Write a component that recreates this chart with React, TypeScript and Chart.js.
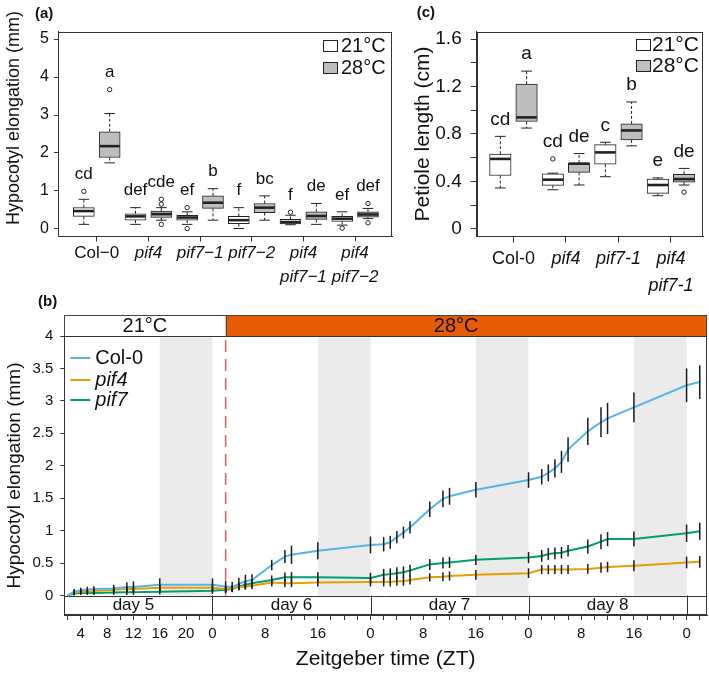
import React, { useEffect, useRef } from 'react';
import { Chart, registerables } from 'chart.js';

Chart.register(...registerables);

const FONT = "'Liberation Sans', Arial, Helvetica, sans-serif";
Chart.defaults.font.family = FONT;
Chart.defaults.color = '#111111';

// ---------------- Panel (a): hypocotyl elongation boxplots ----------------
const genotypesA: (string | string[])[] = ['Col−0', 'pif4', 'pif7−1', 'pif7−2', ['pif4', 'pif7−1'], ['pif4', 'pif7−2']];
// [lower whisker, Q1, median, Q3, upper whisker]
const boxesA21 = [
  [0.12, 0.33, 0.47, 0.56, 0.78],
  [0.12, 0.23, 0.33, 0.40, 0.56],
  [0.12, 0.23, 0.30, 0.36, 0.45],
  [0.01, 0.14, 0.23, 0.33, 0.56],
  [0.11, 0.13, 0.18, 0.25, 0.36],
  [0.10, 0.20, 0.27, 0.33, 0.45],
];
const boxesA28 = [
  [1.74, 1.88, 2.18, 2.56, 3.04],
  [0.23, 0.30, 0.39, 0.47, 0.56],
  [0.23, 0.54, 0.69, 0.87, 1.06],
  [0.23, 0.43, 0.56, 0.67, 0.87],
  [0.12, 0.25, 0.34, 0.45, 0.67],
  [0.27, 0.31, 0.38, 0.45, 0.54],
];
// [genotype index, value]
const outliersA21 = [[0, 0.99], [2, 0.56], [2, 0.01], [4, 0.44], [5, 0.02]];
const outliersA28 = [[0, 3.67], [1, 0.65], [1, 0.78], [1, 0.12], [5, 0.67], [5, 0.16]];
const lettersA21 = ['cd', 'def', 'ef', 'f', 'f', 'ef'];
const lettersA28 = ['a', 'cde', 'b', 'bc', 'de', 'def'];
const yTicksA = [0, 1, 2, 3, 4, 5];

// ---------------- Panel (c): petiole length boxplots ----------------
const genotypesC: (string | string[])[] = ['Col-0', 'pif4', 'pif7-1', ['pif4', 'pif7-1']];
const boxesC21 = [
  [0.345, 0.45, 0.59, 0.63, 0.78],
  [0.33, 0.367, 0.415, 0.465, 0.47],
  [0.44, 0.545, 0.645, 0.71, 0.73],
  [0.28, 0.30, 0.37, 0.42, 0.43],
];
const boxesC28 = [
  [0.85, 0.905, 0.94, 1.22, 1.33],
  [0.37, 0.476, 0.55, 0.555, 0.635],
  [0.70, 0.75, 0.83, 0.885, 1.07],
  [0.37, 0.395, 0.42, 0.46, 0.51],
];
const outliersC21 = [[1, 0.59]];
const outliersC28 = [[3, 0.31]];
const lettersC21 = ['cd', 'cd', 'c', 'e'];
const lettersC28 = ['a', 'de', 'b', 'de'];
const yTicksC = [0, 0.2, 0.4, 0.6, 0.8, 1.0, 1.2, 1.4, 1.6];
const yLabelsC = ['0', '', '0.4', '', '0.8', '', '1.2', '', '1.6'];

// ---------------- Panel (b): time course ----------------
const hours = [2, 3, 4, 5, 6, 9, 11, 12, 16, 24, 26, 27, 28, 29, 30, 33, 35, 36, 40, 48, 50, 51, 52, 53, 54, 57, 59, 60, 64, 72, 74, 75, 76, 77, 78, 81, 83, 84, 88, 96, 98];
const col0 = [0, 0.06, 0.08, 0.09, 0.10, 0.11, 0.13, 0.13, 0.165, 0.165, 0.14, 0.13, 0.18, 0.22, 0.24, 0.47, 0.60, 0.63, 0.69, 0.78, 0.79, 0.82, 0.90, 0.97, 1.05, 1.33, 1.49, 1.53, 1.63, 1.78, 1.83, 1.89, 1.96, 2.06, 2.25, 2.53, 2.67, 2.73, 2.90, 3.24, 3.29];
const col0Err = [0, 0.04, 0.04, 0.045, 0.045, 0.055, 0.075, 0.09, 0.1, 0.1, 0.09, 0.077, 0.095, 0.1, 0.087, 0.08, 0.1, 0.14, 0.13, 0.13, 0.11, 0.10, 0.095, 0.09, 0.095, 0.12, 0.13, 0.13, 0.12, 0.12, 0.12, 0.13, 0.14, 0.17, 0.19, 0.21, 0.23, 0.24, 0.23, 0.26, 0.26];
const pif4 = [0, 0.05, 0.06, 0.06, 0.07, 0.09, 0.10, 0.10, 0.12, 0.12, 0.10, 0.11, 0.13, 0.14, 0.15, 0.20, 0.19, 0.19, 0.20, 0.21, 0.21, 0.21, 0.22, 0.22, 0.24, 0.28, 0.29, 0.30, 0.32, 0.345, 0.40, 0.40, 0.40, 0.40, 0.40, 0.41, 0.43, 0.44, 0.46, 0.51, 0.52];
const pif4Err = [0, 0.03, 0.03, 0.03, 0.03, 0.04, 0.04, 0.05, 0.05, 0.05, 0.05, 0.05, 0.05, 0.05, 0.05, 0.06, 0.06, 0.06, 0.06, 0.07, 0.07, 0.07, 0.07, 0.07, 0.07, 0.065, 0.07, 0.07, 0.075, 0.075, 0.07, 0.07, 0.07, 0.07, 0.07, 0.075, 0.08, 0.08, 0.085, 0.09, 0.09];
const pif7 = [0, 0.03, 0.04, 0.04, 0.04, 0.045, 0.05, 0.05, 0.06, 0.075, 0.09, 0.10, 0.14, 0.165, 0.19, 0.24, 0.28, 0.28, 0.28, 0.27, 0.32, 0.33, 0.345, 0.36, 0.385, 0.48, 0.50, 0.51, 0.55, 0.585, 0.61, 0.64, 0.65, 0.66, 0.69, 0.755, 0.83, 0.87, 0.87, 0.96, 0.99];
const pif7Err = [0, 0.03, 0.03, 0.03, 0.03, 0.035, 0.04, 0.04, 0.045, 0.05, 0.05, 0.05, 0.06, 0.06, 0.065, 0.07, 0.075, 0.08, 0.08, 0.08, 0.09, 0.09, 0.09, 0.09, 0.09, 0.085, 0.085, 0.085, 0.08, 0.085, 0.09, 0.09, 0.09, 0.09, 0.09, 0.11, 0.115, 0.11, 0.115, 0.135, 0.13];
const seriesNames = ['Col-0', 'pif4', 'pif7'];
const nightPeriods = [[16, 24], [40, 48], [64, 72], [88, 96]];
const dayNumbers = [5, 6, 7, 8];
const shiftTime = 26;
const tempLabels = ['21°C', '28°C'];
const yTicksB = [0, 0.5, 1, 1.5, 2, 2.5, 3, 3.5, 4];

// ---------------- helpers ----------------
const INK = '#222222';
const GRAY_BOX = '#BEBEBE';

function seg(ctx: any, x1: number, y1: number, x2: number, y2: number) {
  ctx.beginPath();
  ctx.moveTo(x1, y1);
  ctx.lineTo(x2, y2);
  ctx.stroke();
}

const frameBox = {
  id: 'frameBox',
  afterDraw(chart: any) {
    const { ctx, chartArea: a } = chart;
    ctx.save();
    ctx.strokeStyle = '#333';
    ctx.lineWidth = 1;
    ctx.strokeRect(Math.round(a.left) + 0.5, Math.round(a.top) + 0.5, Math.round(a.right - a.left) - 1, Math.round(a.bottom - a.top) - 1);
    ctx.restore();
  },
};

function panelLabel(text: string, x: number, y: number) {
  return {
    id: 'panelLabel',
    afterDraw(chart: any) {
      const ctx = chart.ctx;
      ctx.save();
      ctx.font = `bold 15px ${FONT}`;
      ctx.fillStyle = '#111';
      ctx.textAlign = 'left';
      ctx.textBaseline = 'middle';
      ctx.fillText(text, x, y);
      ctx.restore();
    },
  };
}

// rotated axis title drawn at a chosen centre (used where the original title is not centred on the plot)
function sideTitle(text: string, size: number, x: number, y: number) {
  return {
    id: 'sideTitle',
    afterDraw(chart: any) {
      const ctx = chart.ctx;
      ctx.save();
      ctx.translate(x, y);
      ctx.rotate(-Math.PI / 2);
      ctx.font = `${size}px ${FONT}`;
      ctx.fillStyle = '#111';
      ctx.textAlign = 'center';
      ctx.textBaseline = 'middle';
      ctx.fillText(text, 0, 0);
      ctx.restore();
    },
  };
}

function boxDatasets(b21: number[][], b28: number[][], o21: number[][], o28: number[][], thick: number) {
  return [
    {
      type: 'bar', label: '21°C',
      data: b21.map((b, i) => ({ x: 2 * i + 1, y: [b[1], b[3]] })),
      backgroundColor: '#ffffff', borderColor: INK, borderWidth: 1, borderSkipped: false,
      barThickness: thick, grouped: false,
    },
    {
      type: 'bar', label: '28°C',
      data: b28.map((b, i) => ({ x: 2 * i + 2, y: [b[1], b[3]] })),
      backgroundColor: GRAY_BOX, borderColor: INK, borderWidth: 1, borderSkipped: false,
      barThickness: thick, grouped: false,
    },
    {
      type: 'scatter', label: 'outliers',
      data: [
        ...o21.map(([i, v]) => ({ x: 2 * i + 1, y: v })),
        ...o28.map(([i, v]) => ({ x: 2 * i + 2, y: v })),
      ],
      pointRadius: 2.2, pointBorderWidth: 1, pointBorderColor: INK, pointBackgroundColor: '#ffffff',
    },
  ];
}

function boxExtras(b21: number[][], b28: number[][], o21: number[][], o28: number[][], l21: string[], l28: string[], thick: number, letterSize: number) {
  return {
    id: 'boxExtras',
    afterDatasetsDraw(chart: any) {
      const { ctx } = chart;
      const xs = chart.scales.x;
      const ys = chart.scales.y;
      ctx.save();
      const one = (boxes: number[][], outs: number[][], letters: string[], off: number) => {
        boxes.forEach((b, i) => {
          const px = xs.getPixelForValue(2 * i + off);
          const [lo, q1, md, q3, hi] = b.map((v) => ys.getPixelForValue(v));
          ctx.strokeStyle = INK;
          ctx.lineWidth = 1;
          ctx.setLineDash([3, 2]);
          if (hi < q3 - 0.5) seg(ctx, px, q3, px, hi);
          if (lo > q1 + 0.5) seg(ctx, px, q1, px, lo);
          ctx.setLineDash([]);
          const sw = thick / 4;
          seg(ctx, px - sw, hi, px + sw, hi);
          seg(ctx, px - sw, lo, px + sw, lo);
          ctx.lineWidth = 2.6;
          seg(ctx, px - thick / 2 + 0.5, md, px + thick / 2 - 0.5, md);
          const tops = [b[4], ...outs.filter((o) => o[0] === i).map((o) => o[1])];
          const ty = ys.getPixelForValue(Math.max(...tops)) - 17;
          ctx.fillStyle = '#111';
          ctx.font = `${letterSize}px ${FONT}`;
          ctx.textAlign = 'center';
          ctx.textBaseline = 'middle';
          ctx.fillText(letters[i], px, ty);
        });
      };
      one(b21, o21, l21, 1);
      one(b28, o28, l28, 2);
      ctx.restore();
    },
  };
}

function boxLegend(sqDx: number, txtDx: number, rows: number[], size: number) {
  return {
    id: 'boxLegend',
    afterDraw(chart: any) {
      const { ctx, chartArea: a } = chart;
      ctx.save();
      [0, 1].forEach((k) => {
        const ds = chart.data.datasets[k];
        const cy = a.top + rows[k];
        ctx.fillStyle = ds.backgroundColor;
        ctx.fillRect(a.right - sqDx, cy - 6, 15, 12);
        ctx.strokeStyle = INK;
        ctx.lineWidth = 1;
        ctx.strokeRect(a.right - sqDx + 0.5, cy - 5.5, 14, 11);
        ctx.fillStyle = '#111';
        ctx.font = `${size}px ${FONT}`;
        ctx.textAlign = 'left';
        ctx.textBaseline = 'middle';
        ctx.fillText(ds.label, a.right - txtDx, cy);
      });
      ctx.restore();
    },
  };
}

function boxConfig(o: any) {
  const plugins: any[] = [
    frameBox,
    boxExtras(o.b21, o.b28, o.o21, o.o28, o.l21, o.l28, o.thick, o.letterSize),
    boxLegend(o.legSq, o.legTxt, o.legRows, o.legSize),
    panelLabel(o.panel, o.panelX, o.panelY),
  ];
  if (o.titleAt) plugins.push(sideTitle(o.yTitle, o.titleSize, o.titleAt[0], o.titleAt[1]));
  return {
    type: 'bar',
    data: { datasets: boxDatasets(o.b21, o.b28, o.o21, o.o28, o.thick) },
    options: {
      responsive: false,
      animation: false,
      events: [],
      layout: { padding: { left: o.padLeft, top: 31.5, right: o.padRight, bottom: 0 } },
      plugins: { legend: { display: false }, tooltip: { enabled: false } },
      scales: {
        x: {
          type: 'linear', min: o.xMin, max: o.xMax, offset: false,
          afterBuildTicks: (axis: any) => { axis.ticks = o.labels.map((_: any, i: number) => ({ value: 2 * i + 1.5 })); },
          afterFit: (s: any) => { s.height = o.xHeight; },
          grid: { display: true, drawOnChartArea: false, drawTicks: true, tickLength: o.xTick, color: '#333', offset: false },
          border: { display: true, color: '#333' },
          ticks: {
            autoSkip: false, maxRotation: 0, padding: o.xPad, color: '#111',
            callback: (v: number) => o.labels[Math.round((v - 1.5) / 2)],
            font: (c: any) => ({ size: o.xFont, lineHeight: o.xLine, style: c.index === 0 ? 'normal' : 'italic' }),
          },
        },
        y: {
          min: o.yMin, max: o.yMax,
          afterBuildTicks: (axis: any) => { axis.ticks = o.yTicks.map((v: number) => ({ value: v })); },
          afterFit: (s: any) => { s.width = o.yWidth; },
          grid: { display: true, drawOnChartArea: false, drawTicks: true, tickLength: o.yTick, color: '#333' },
          border: { display: true, color: '#333' },
          ticks: {
            autoSkip: false, padding: o.yPad, color: '#111', font: { size: o.yFont },
            callback: (v: number, i: number) => o.yLabels[i],
          },
          title: { display: !o.titleAt, text: o.yTitle, padding: 0, color: '#111', font: { size: o.titleSize } },
        },
      },
    },
    plugins,
  };
}

function ChartCanvas({ make, left, top, width, height }: any) {
  const ref = useRef<HTMLCanvasElement>(null);
  useEffect(() => {
    const chart = new Chart(ref.current as HTMLCanvasElement, make());
    return () => chart.destroy();
  }, []);
  return (
    <canvas
      ref={ref}
      width={width}
      height={height}
      style={{ position: 'absolute', left, top, width, height, display: 'block' }}
    />
  );
}

const makeA = () => boxConfig({
  b21: boxesA21, b28: boxesA28, o21: outliersA21, o28: outliersA28, l21: lettersA21, l28: lettersA28,
  labels: genotypesA, thick: 21, letterSize: 17,
  padLeft: 3, padRight: 8, xMin: 0, xMax: 12.93, xHeight: 67.5, xTick: 5, xPad: 0, xFont: 17, xLine: 1.42,
  yMin: -0.2, yMax: 5.2, yTicks: yTicksA, yLabels: yTicksA.map(String), yWidth: 55, yTick: 4, yPad: 5, yFont: 16,
  yTitle: 'Hypocotyl elongation (mm)', titleSize: 18, titleAt: [14, 118],
  legSq: 69, legTxt: 51, legRows: [14.5, 36.5], legSize: 20,
  panel: '(a)', panelX: 35, panelY: 14,
});

const makeC = () => boxConfig({
  b21: boxesC21, b28: boxesC28, o21: outliersC21, o28: outliersC28, l21: lettersC21, l28: lettersC28,
  labels: genotypesC, thick: 21.5, letterSize: 19,
  padLeft: 10.4, padRight: 6, xMin: 0.1, xMax: 8.72, xHeight: 67.5, xTick: 6, xPad: 3, xFont: 18, xLine: 1.5,
  yMin: -0.064, yMax: 1.664, yTicks: yTicksC, yLabels: yLabelsC, yWidth: 66.3, yTick: 6, yPad: 9, yFont: 19,
  yTitle: 'Petiole length (cm)', titleSize: 21,
  legSq: 67, legTxt: 51, legRows: [13.5, 34.5], legSize: 21,
  panel: '(c)', panelX: 16.7, panelY: 13,
});

// ---------------- Panel (b) plugins ----------------
const seriesB = [
  { name: seriesNames[0], values: col0, err: col0Err, color: '#56B4E9', italic: false },
  { name: seriesNames[1], values: pif4, err: pif4Err, color: '#E69F00', italic: true },
  { name: seriesNames[2], values: pif7, err: pif7Err, color: '#009E73', italic: true },
];

const timeDecor = {
  id: 'timeDecor',
  beforeDatasetsDraw(chart: any) {
    const { ctx, chartArea: a } = chart;
    const x = chart.scales.x;
    const y = chart.scales.y;
    const y0 = y.getPixelForValue(0);
    ctx.save();
    ctx.fillStyle = '#EBEBEB';
    nightPeriods.forEach(([s, e]) => {
      const x1 = x.getPixelForValue(s);
      const x2 = x.getPixelForValue(e);
      ctx.fillRect(x1, a.top, x2 - x1, y0 - a.top);
    });
    const xs = x.getPixelForValue(shiftTime);
    ctx.strokeStyle = '#CC6B6B';
    ctx.lineWidth = 1.6;
    ctx.setLineDash([12, 7]);
    seg(ctx, xs, a.top + 4, xs, y0);
    ctx.setLineDash([]);
    ctx.strokeStyle = '#333';
    ctx.lineWidth = 1;
    seg(ctx, a.left, Math.round(y0) + 0.5, a.right, Math.round(y0) + 0.5);
    ctx.fillStyle = '#111';
    ctx.font = `17px ${FONT}`;
    ctx.textAlign = 'center';
    ctx.textBaseline = 'middle';
    const ym = y.getPixelForValue(-0.15);
    dayNumbers.forEach((d, k) => {
      const xb = Math.round(x.getPixelForValue(24 * (k + 1))) + 0.5;
      seg(ctx, xb, y0, xb, a.bottom);
      ctx.fillText(`day ${d}`, x.getPixelForValue(24 * k + 12), ym);
    });
    ctx.restore();
  },
  afterDatasetsDraw(chart: any) {
    const { ctx } = chart;
    const x = chart.scales.x;
    const y = chart.scales.y;
    ctx.save();
    ctx.strokeStyle = '#1a1a1a';
    ctx.lineWidth = 1.5;
    seriesB.forEach((s) => {
      hours.forEach((t, i) => {
        const e = s.err[i];
        if (!e) return;
        const px = x.getPixelForValue(t);
        seg(ctx, px, y.getPixelForValue(s.values[i] - e), px, y.getPixelForValue(s.values[i] + e));
      });
    });
    ctx.restore();
  },
  afterDraw(chart: any) {
    const { ctx, chartArea: a } = chart;
    const x = chart.scales.x;
    ctx.save();
    // temperature bar
    const h = 21;
    const top = a.top - h;
    const xs = x.getPixelForValue(shiftTime);
    ctx.fillStyle = '#ffffff';
    ctx.fillRect(a.left, top, xs - a.left, h);
    ctx.fillStyle = '#E55C02';
    ctx.fillRect(xs, top, a.right - xs, h);
    ctx.strokeStyle = '#444';
    ctx.lineWidth = 1;
    ctx.strokeRect(Math.round(a.left) + 0.5, Math.round(top) + 0.5, Math.round(a.right - a.left) - 1, h);
    seg(ctx, Math.round(xs) + 0.5, top, Math.round(xs) + 0.5, a.top);
    ctx.fillStyle = '#111';
    ctx.font = `20px ${FONT}`;
    ctx.textAlign = 'center';
    ctx.textBaseline = 'middle';
    ctx.fillText(tempLabels[0], x.getPixelForValue((x.min + shiftTime) / 2), top + h / 2 + 1);
    ctx.fillText(tempLabels[1], x.getPixelForValue((shiftTime + 96) / 2), top + h / 2 + 1);
    // frame
    ctx.strokeStyle = '#333';
    ctx.strokeRect(Math.round(a.left) + 0.5, Math.round(a.top) + 0.5, Math.round(a.right - a.left) - 1, Math.round(a.bottom - a.top) - 1);
    // legend
    const rows = [22, 44, 64];
    seriesB.forEach((s, k) => {
      const cy = a.top + rows[k];
      ctx.strokeStyle = s.color;
      ctx.lineWidth = 2;
      seg(ctx, a.left + 6, cy, a.left + 26, cy);
      ctx.fillStyle = '#111';
      ctx.font = `${s.italic ? 'italic ' : ''}20px ${FONT}`;
      ctx.textAlign = 'left';
      ctx.fillText(s.name, a.left + 31, cy);
    });
    ctx.restore();
  },
};

const makeB = () => ({
  type: 'line',
  data: {
    datasets: seriesB.map((s) => ({
      label: s.name,
      data: hours.map((t, i) => ({ x: t, y: s.values[i] })),
      borderColor: s.color,
      borderWidth: 2,
      pointRadius: 0,
      tension: 0,
      fill: false,
    })),
  },
  options: {
    responsive: false,
    animation: false,
    events: [],
    layout: { padding: { left: 3.6, top: 46, right: 2, bottom: 0 } },
    plugins: { legend: { display: false }, tooltip: { enabled: false } },
    scales: {
      x: {
        type: 'linear', min: 1.5, max: 99.1,
        afterBuildTicks: (axis: any) => {
          const t: any[] = [];
          for (let v = 2; v <= 98; v += 2) t.push({ value: v });
          axis.ticks = t;
        },
        afterFit: (s: any) => { s.height = 60; },
        grid: { display: true, drawOnChartArea: false, drawTicks: true, tickLength: 5, color: '#333' },
        border: { display: true, color: '#333' },
        ticks: {
          autoSkip: false, maxRotation: 0, padding: 5, color: '#111', font: { size: 15 },
          callback: (v: number) => ((v <= 24 && v % 4 === 0) || (v > 24 && v % 8 === 0) ? String(v % 24) : ''),
        },
        title: { display: true, text: 'Zeitgeber time (ZT)', color: '#111', font: { size: 21 }, padding: { top: 0, bottom: 3 } },
      },
      y: {
        min: -0.3, max: 4,
        afterBuildTicks: (axis: any) => { axis.ticks = yTicksB.map((v) => ({ value: v })); },
        afterFit: (s: any) => { s.width = 60.7; },
        grid: { display: true, drawOnChartArea: false, drawTicks: true, tickLength: 4, color: '#333' },
        border: { display: true, color: '#333' },
        ticks: { autoSkip: false, padding: 7, color: '#111', font: { size: 15 }, callback: (v: number) => String(v) },
        title: { display: true, text: 'Hypocotyl elongation (mm)', color: '#111', font: { size: 19 }, padding: 0 },
      },
    },
  },
  plugins: [timeDecor, panelLabel('(b)', 38, 12)],
});

export default function App() {
  return (
    <div style={{ position: 'absolute', left: 0, top: 0, width: 709, height: 675, background: '#ffffff', overflow: 'hidden' }}>
      <ChartCanvas make={makeA} left={0} top={0} width={400} height={304} />
      <ChartCanvas make={makeC} left={400} top={0} width={309} height={304} />
      <ChartCanvas make={makeB} left={0} top={290} width={709} height={385} />
    </div>
  );
}
